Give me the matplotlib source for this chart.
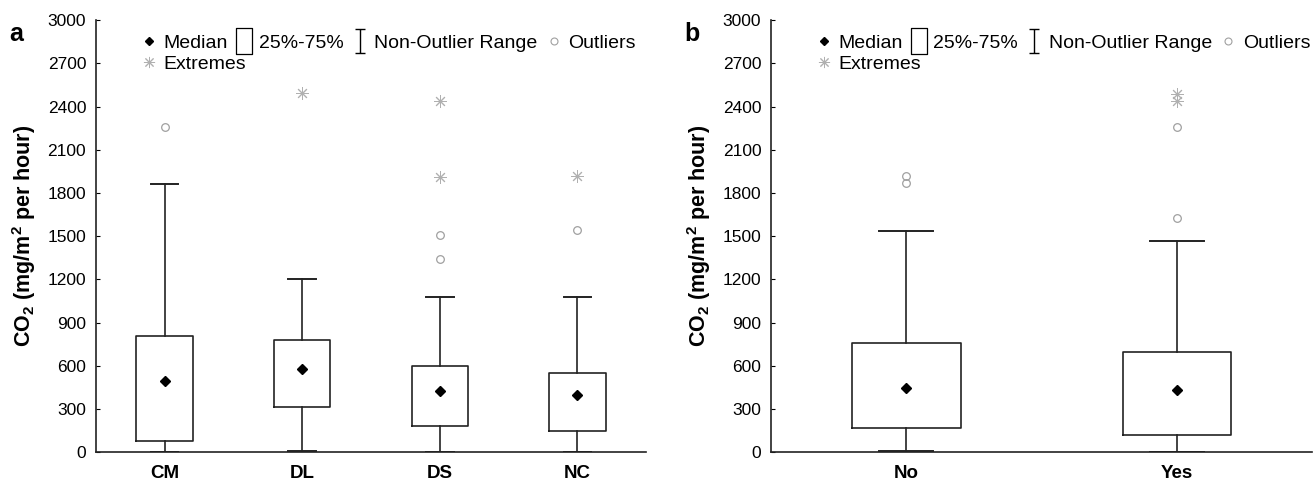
import numpy as np
import matplotlib
matplotlib.use("Agg")
import matplotlib.pyplot as plt
from matplotlib.lines import Line2D
from matplotlib.path import Path

plt.rcParams['font.family'] = ['Liberation Sans', 'DejaVu Sans']
plt.rcParams['mathtext.fontset'] = 'custom'
plt.rcParams['mathtext.rm'] = 'Liberation Sans:bold'
plt.rcParams['mathtext.bf'] = 'Liberation Sans:bold'

# panel a: by treatment
cats_a = ['CM', 'DL', 'DS', 'NC']
q1_a = [80, 315, 185, 145]
med_a = [495, 580, 425, 400]
q3_a = [810, 780, 600, 550]
lo_a = [0, 10, 0, 0]
hi_a = [1860, 1205, 1080, 1080]
out_a = [[2260], [], [1510, 1340], [1540]]
ext_a = [[], [2495], [2440, 1910], [1920]]

# panel b: No / Yes
cats_b = ['No', 'Yes']
q1_b = [165, 120]
med_b = [445, 435]
q3_b = [755, 695]
lo_b = [8, 0]
hi_b = [1535, 1465]
out_b = [[1920, 1870], [2260, 1625]]
ext_b = [[], [2490, 2440]]

yticks = np.arange(0, 3001, 300)

OUT_C = '#a0a0a0'
EXT_C = '#b0b0b0'

ibeam = Path([(-0.45, 1), (0.45, 1), (0, 1), (0, -1), (-0.45, -1), (0.45, -1)],
             [Path.MOVETO, Path.LINETO, Path.MOVETO, Path.LINETO, Path.MOVETO, Path.LINETO])
rect = Path([(-0.32, -0.5), (0.32, -0.5), (0.32, 0.5), (-0.32, 0.5), (-0.32, -0.5)],
            [Path.MOVETO, Path.LINETO, Path.LINETO, Path.LINETO, Path.CLOSEPOLY])
asterisk = (8, 2, 0)


def panel(ax, cats, q1, med, q3, lo, hi, outl, ext, bw, cw):
    pos = np.arange(len(cats))
    stats = []
    for i in range(len(cats)):
        stats.append(dict(med=med[i], q1=q1[i], q3=q3[i], whislo=lo[i], whishi=hi[i], fliers=[]))
    ax.bxp(stats, positions=pos, widths=bw, capwidths=cw, showfliers=False,
           boxprops=dict(color='#222222', linewidth=1.2),
           whiskerprops=dict(color='#222222', linewidth=1.2),
           capprops=dict(color='#222222', linewidth=1.4),
           medianprops=dict(visible=False))
    ax.plot(pos, med, 'D', color='black', markersize=5, zorder=5)
    for i in range(len(cats)):
        if outl[i]:
            ax.plot([pos[i]] * len(outl[i]), outl[i], 'o', mfc='none', mec=OUT_C,
                    markersize=5.5, mew=0.9)
        if ext[i]:
            ax.plot([pos[i]] * len(ext[i]), ext[i], marker=asterisk, ls='none',
                    color=EXT_C, markersize=9, mew=0.7)
    ax.set_xlim(-0.5, len(cats) - 0.5)
    ax.set_ylim(0, 3000)
    ax.set_yticks(yticks)
    ax.set_xticks(pos)
    ax.set_xticklabels(cats, fontweight='bold', fontsize=13.5)
    ax.tick_params(axis='y', direction='in', length=3, labelsize=12.5, pad=7)
    ax.tick_params(axis='x', length=0, pad=9)
    for s in ['top', 'right']:
        ax.spines[s].set_visible(False)
    for s in ['left', 'bottom']:
        ax.spines[s].set_linewidth(1.2)
        ax.spines[s].set_color('#222222')
    ax.set_ylabel('CO$_2$ (mg/m$^2$ per hour)', fontweight='bold', fontsize=15.5, labelpad=7)

    h1 = [Line2D([], [], marker='D', ls='none', color='black', markersize=4),
          Line2D([], [], marker=rect, ls='none', mfc='none', mec='black', markersize=19, mew=0.9),
          Line2D([], [], marker=ibeam, ls='none', mfc='none', mec='black', markersize=17, mew=1.0),
          Line2D([], [], marker='o', ls='none', mfc='none', mec=OUT_C, markersize=5, mew=0.8)]
    leg1 = ax.legend(h1, ['Median', '25%-75%', 'Non-Outlier Range', 'Outliers'],
                     ncol=4, loc='upper left', bbox_to_anchor=(0.081, 0.968), frameon=False,
                     fontsize=14, handlelength=0.9, handletextpad=0.3,
                     columnspacing=0.38, borderpad=0, borderaxespad=0)
    ax.add_artist(leg1)
    h2 = [Line2D([], [], marker=asterisk, ls='none', color=EXT_C, markersize=8, mew=0.7)]
    ax.legend(h2, ['Extremes'], loc='upper left', bbox_to_anchor=(0.081, 0.918), frameon=False,
              fontsize=14, handlelength=0.9, handletextpad=0.3, borderpad=0, borderaxespad=0)


fig = plt.figure(figsize=(13.14, 4.8), dpi=100)
ax1 = fig.add_axes([0.073, 0.058, 0.4187, 0.9])
ax2 = fig.add_axes([0.5868, 0.058, 0.412, 0.9])

panel(ax1, cats_a, q1_a, med_a, q3_a, lo_a, hi_a, out_a, ext_a, 0.41, 0.2)
panel(ax2, cats_b, q1_b, med_b, q3_b, lo_b, hi_b, out_b, ext_b, 0.40, 0.2)

fig.text(0.007, 0.93, 'a', fontsize=18, fontweight='bold', va='center')
fig.text(0.521, 0.93, 'b', fontsize=18, fontweight='bold', va='center')

fig.savefig('out.png', dpi=100)
